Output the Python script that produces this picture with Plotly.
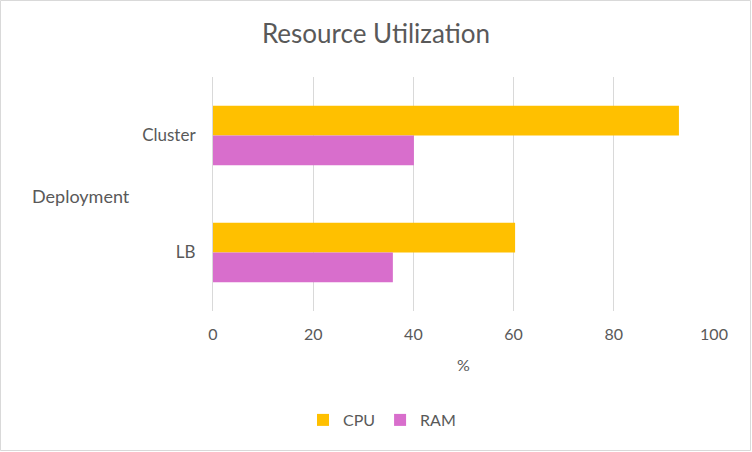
import plotly.graph_objects as go

deployments = ["Cluster", "LB"]
cpu = [93.0, 60.3]
ram = [40.1, 35.9]

fnt = "Lato"
grey = "#595959"

fig = go.Figure()
fig.add_trace(go.Bar(y=deployments, x=cpu, name="CPU", orientation="h",
                     marker=dict(color="#FFC000", line=dict(width=0))))
fig.add_trace(go.Bar(y=deployments, x=ram, name="RAM", orientation="h",
                     marker=dict(color="#D86ECC", line=dict(width=0))))

# plot area in pixels: x 213..714, y 77..311
W, H = 752, 452
L, R, T, B = 213, 714, 77, 311
pw, ph = R - L, B - T

fig.update_layout(
    width=W, height=H,
    margin=dict(l=L, r=W - R, t=T, b=H - B, autoexpand=False),
    paper_bgcolor="white", plot_bgcolor="white",
    barmode="group", bargap=0.49, bargroupgap=0,
    font=dict(family=fnt, color=grey, size=13),
    title=dict(text="Resource Utilization", x=0.5, xanchor="center", y=1 - 34 / H, yanchor="middle",
               font=dict(size=26, color=grey)),
    xaxis=dict(range=[0, 100], dtick=20, showgrid=True, gridcolor="#D9D9D9", gridwidth=1,
               zeroline=False, showline=False, ticks="", ticklabelstandoff=12,
               title=dict(text="%", standoff=17, font=dict(size=16, color=grey)),
               tickfont=dict(size=16, color=grey)),
    yaxis=dict(autorange="reversed", showgrid=False, zeroline=False, ticks="",
               showline=True, linecolor="#D9D9D9", linewidth=1,
               ticklabelstandoff=13, tickfont=dict(size=17, color=grey)),
    legend=dict(orientation="h", x=(382 - L) / pw, xanchor="center",
                y=(B - 420) / ph, yanchor="middle",
                font=dict(size=16, color=grey), itemwidth=30, tracegroupgap=0),
    showlegend=True,
)

fig.add_annotation(text="Deployment", xref="paper", yref="paper", x=(81 - L) / pw, y=(B - 196) / ph,
                   showarrow=False, font=dict(size=18, color=grey), xanchor="center", yanchor="middle")

# outer chart border
fig.add_shape(type="rect", xref="paper", yref="paper",
              x0=(0.5 - L) / pw, x1=(W - 1.5 - L) / pw, y0=(B - (H - 1.5)) / ph, y1=(B - 0.5) / ph,
              line=dict(color="#D9D9D9", width=1), layer="below")

fig.write_html("out.html", config={"displayModeBar": False},
               post_script="document.body.style.margin='0';")
